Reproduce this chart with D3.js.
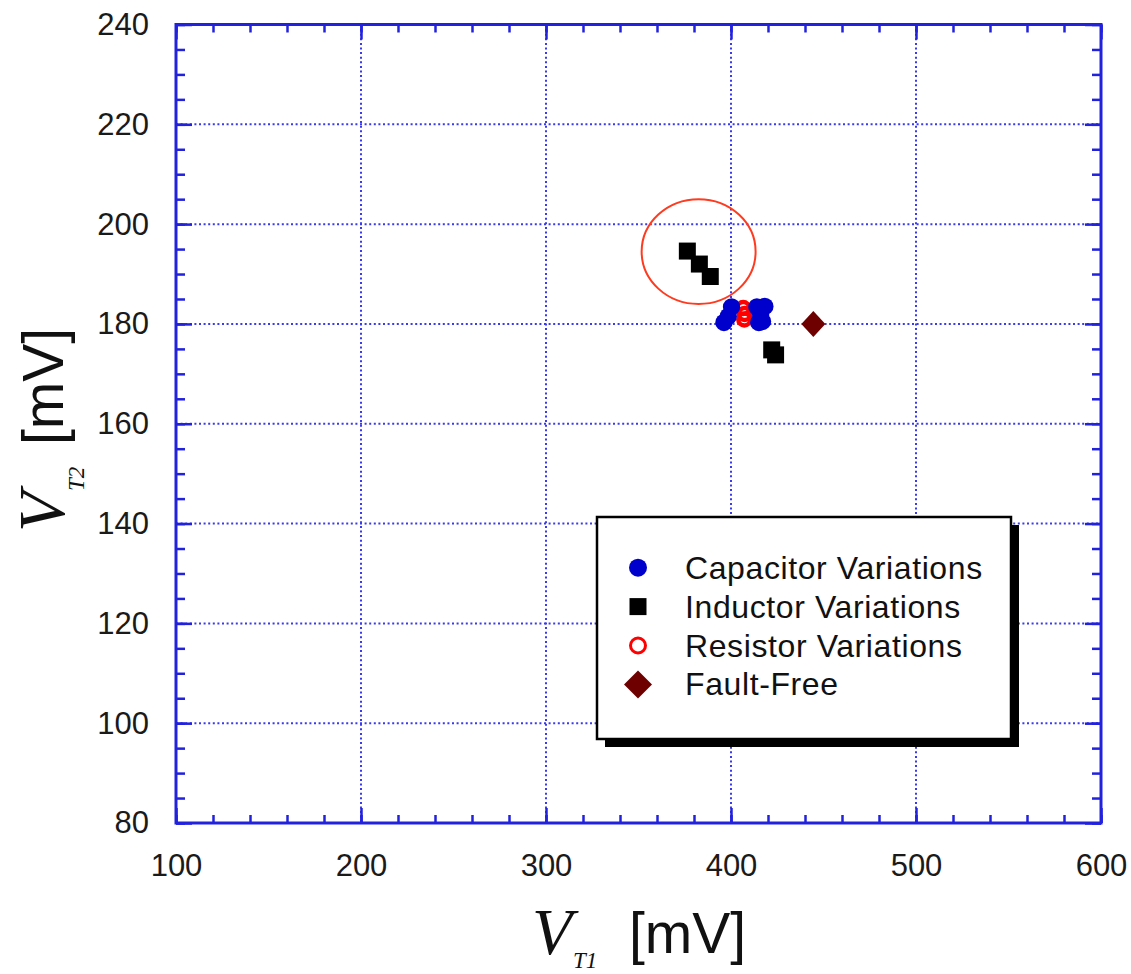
<!DOCTYPE html>
<html>
<head>
<meta charset="utf-8">
<script src="https://cdn.jsdelivr.net/npm/d3@7/dist/d3.min.js"></script>
<style>
  html, body { margin: 0; padding: 0; background: #ffffff; }
  svg { display: block; }
</style>
</head>
<body>
<svg id="chart" width="1131" height="974"></svg>
<script>
// ---- data (mV) ----
const capacitorVT1 = [400.3, 396.2, 398.5, 414.0, 418.3, 415.0, 417.0, 416.0];
const capacitorVT2 = [183.4, 180.3, 181.5, 183.4, 183.5, 180.3, 180.5, 182.0];

const inductorVT1 = [376.4, 382.9, 388.8, 422.0, 424.1];
const inductorVT2 = [194.6, 192.0, 189.5, 174.8, 173.8];

const resistorVT1 = [406.6, 407.4, 407.2];
const resistorVT2 = [183.2, 182.0, 180.9];

const faultFreeVT1 = [444.5];
const faultFreeVT2 = [180.0];

// highlighted inductor group: centre and radii in mV
const highlightCenter = [382.5, 194.5];
const highlightRadii = [30.8, 10.5];

const xTicks = [100, 200, 300, 400, 500, 600];
const yTicks = [80, 100, 120, 140, 160, 180, 200, 220, 240];
const xMinorTicks = d3.range(100, 601, 20);
const yMinorTicks = d3.range(80, 241, 5);

const legendLabels = ["Capacitor Variations", "Inductor Variations", "Resistor Variations", "Fault-Free"];

// ---- layout ----
const svg = d3.select("#chart");
const plotLeft = 176, plotRight = 1101, plotTop = 24.5, plotBottom = 823;
const x = d3.scaleLinear().domain([100, 600]).range([plotLeft, plotRight]);
const y = d3.scaleLinear().domain([80, 240]).range([plotBottom, plotTop]);

const axisBlue = "#2222dd";
const gridBlue = "#3a3aee";
const sans = "'Liberation Sans', Arial, Helvetica, sans-serif";
const serif = "'Liberation Serif', 'Times New Roman', Times, serif";

// grid (dotted) at major ticks
const grid = svg.append("g");
grid.selectAll("line.gx").data(xTicks.slice(1, -1)).join("line")
  .attr("x1", d => x(d)).attr("x2", d => x(d))
  .attr("y1", plotTop).attr("y2", plotBottom)
  .attr("stroke", gridBlue).attr("stroke-width", 2).attr("stroke-dasharray", "2,2.6");
grid.selectAll("line.gy").data(yTicks.slice(1, -1)).join("line")
  .attr("x1", plotLeft).attr("x2", plotRight)
  .attr("y1", d => y(d)).attr("y2", d => y(d))
  .attr("stroke", gridBlue).attr("stroke-width", 2).attr("stroke-dasharray", "2,2.6");

// axes with inward ticks on all four sides
function styleAxis(g) {
  g.select(".domain").remove();
  g.selectAll(".tick line").attr("stroke", axisBlue).attr("stroke-width", 2.5);
  g.selectAll(".tick text").attr("fill", "#1a1a1a")
    .attr("font-family", sans).attr("font-size", 31);
}
const fmt = d3.format("d");

svg.append("g").attr("transform", `translate(0,${plotBottom})`)
  .call(d3.axisBottom(x).tickValues(xMinorTicks).tickSize(-8).tickSizeOuter(0).tickFormat(""))
  .call(styleAxis);
svg.append("g").attr("transform", `translate(0,${plotBottom})`)
  .call(d3.axisBottom(x).tickValues(xTicks).tickSize(-15).tickSizeOuter(0).tickPadding(31).tickFormat(fmt))
  .call(styleAxis);
svg.append("g").attr("transform", `translate(0,${plotTop})`)
  .call(d3.axisTop(x).tickValues(xMinorTicks).tickSize(-8).tickSizeOuter(0).tickFormat(""))
  .call(styleAxis);
svg.append("g").attr("transform", `translate(0,${plotTop})`)
  .call(d3.axisTop(x).tickValues(xTicks).tickSize(-15).tickSizeOuter(0).tickFormat(""))
  .call(styleAxis);

svg.append("g").attr("transform", `translate(${plotLeft},0)`)
  .call(d3.axisLeft(y).tickValues(yMinorTicks).tickSize(-9).tickSizeOuter(0).tickFormat(""))
  .call(styleAxis);
svg.append("g").attr("transform", `translate(${plotLeft},0)`)
  .call(d3.axisLeft(y).tickValues(yTicks).tickSize(-16).tickSizeOuter(0).tickPadding(27).tickFormat(fmt))
  .call(styleAxis);
svg.append("g").attr("transform", `translate(${plotRight},0)`)
  .call(d3.axisRight(y).tickValues(yMinorTicks).tickSize(-9).tickSizeOuter(0).tickFormat(""))
  .call(styleAxis);
svg.append("g").attr("transform", `translate(${plotRight},0)`)
  .call(d3.axisRight(y).tickValues(yTicks).tickSize(-16).tickSizeOuter(0).tickFormat(""))
  .call(styleAxis);

// frame
svg.append("rect")
  .attr("x", plotLeft).attr("y", plotTop)
  .attr("width", plotRight - plotLeft).attr("height", plotBottom - plotTop)
  .attr("fill", "none").attr("stroke", axisBlue).attr("stroke-width", 3);

// ---- markers ----
const squareSym = d3.symbol().type(d3.symbolSquare).size(17 * 17);
const circleSym = d3.symbol().type(d3.symbolCircle).size(Math.PI * 8.7 * 8.7);
const ringSym = d3.symbol().type(d3.symbolCircle).size(Math.PI * 6 * 6);
const diamondPath = (w, h) => `M0,${-h}L${w},0L0,${h}L${-w},0Z`;

const pts = (xs, ys) => xs.map((v, i) => [v, ys[i]]);

// resistor (hollow red)
svg.append("g").selectAll("path").data(pts(resistorVT1, resistorVT2)).join("path")
  .attr("d", ringSym)
  .attr("transform", d => `translate(${x(d[0])},${y(d[1])})`)
  .attr("fill", "none").attr("stroke", "#ff0000").attr("stroke-width", 4.5);

// capacitor (filled blue)
svg.append("g").selectAll("path").data(pts(capacitorVT1, capacitorVT2)).join("path")
  .attr("d", circleSym)
  .attr("transform", d => `translate(${x(d[0])},${y(d[1])})`)
  .attr("fill", "#0000cc");

// inductor (black squares)
svg.append("g").selectAll("path").data(pts(inductorVT1, inductorVT2)).join("path")
  .attr("d", squareSym)
  .attr("transform", d => `translate(${x(d[0])},${y(d[1])})`)
  .attr("fill", "#000000");

// fault-free (dark red diamond)
svg.append("g").selectAll("path").data(pts(faultFreeVT1, faultFreeVT2)).join("path")
  .attr("d", diamondPath(12, 13))
  .attr("transform", d => `translate(${x(d[0])},${y(d[1])})`)
  .attr("fill", "#6e0000");

// highlight ellipse around the shifted inductor points
svg.append("ellipse")
  .attr("cx", x(highlightCenter[0])).attr("cy", y(highlightCenter[1]))
  .attr("rx", x(highlightCenter[0] + highlightRadii[0]) - x(highlightCenter[0]))
  .attr("ry", y(highlightCenter[1] - highlightRadii[1]) - y(highlightCenter[1]))
  .attr("fill", "none").attr("stroke", "#ff3b1f").attr("stroke-width", 2);

// ---- legend ----
const lg = svg.append("g");
const lx = 597, ly = 517, lw = 414, lh = 222, shadow = 8;
lg.append("rect").attr("x", lx + shadow).attr("y", ly + shadow)
  .attr("width", lw).attr("height", lh).attr("fill", "#000");
lg.append("rect").attr("x", lx).attr("y", ly)
  .attr("width", lw).attr("height", lh)
  .attr("fill", "#fff").attr("stroke", "#000").attr("stroke-width", 2.5);

const rowY = i => 567.7 + i * 38.9;
const markX = 638, textX = 685;
const legendMarks = [
  g => g.append("path").attr("d", d3.symbol().type(d3.symbolCircle).size(Math.PI * 9 * 9)).attr("fill", "#0000cc"),
  g => g.append("path").attr("d", d3.symbol().type(d3.symbolSquare).size(17 * 17)).attr("fill", "#000"),
  g => g.append("path").attr("d", d3.symbol().type(d3.symbolCircle).size(Math.PI * 7.5 * 7.5))
        .attr("fill", "none").attr("stroke", "#ff0000").attr("stroke-width", 3),
  g => g.append("path").attr("d", diamondPath(14, 14)).attr("fill", "#6e0000")
];
legendLabels.forEach((label, i) => {
  const row = lg.append("g").attr("transform", `translate(${markX},${rowY(i)})`);
  legendMarks[i](row);
  lg.append("text").attr("x", textX).attr("y", rowY(i) + 11)
    .attr("font-family", sans).attr("font-size", 32).attr("letter-spacing", 0.6)
    .attr("fill", "#111")
    .text(label);
});

// ---- axis titles ----
function axisTitle(g, sub, subDx, subDy, unitDx) {
  g.append("text").attr("x", 0).attr("y", 0)
    .attr("font-family", serif).attr("font-style", "italic").attr("font-size", 66)
    .attr("fill", "#111").text("V");
  g.append("text").attr("x", subDx).attr("y", subDy)
    .attr("font-family", serif).attr("font-style", "italic").attr("font-size", 23)
    .attr("fill", "#111").text(sub);
  g.append("text").attr("x", unitDx).attr("y", -1)
    .attr("font-family", sans).attr("font-size", 57)
    .attr("fill", "#111").text("[mV]");
}
axisTitle(svg.append("g").attr("transform", "translate(532,954)"), "T1", 41, 14, 97);
axisTitle(svg.append("g").attr("transform", "translate(64,532) rotate(-90)"), "T2", 41, 20, 87);
</script>
</body>
</html>
